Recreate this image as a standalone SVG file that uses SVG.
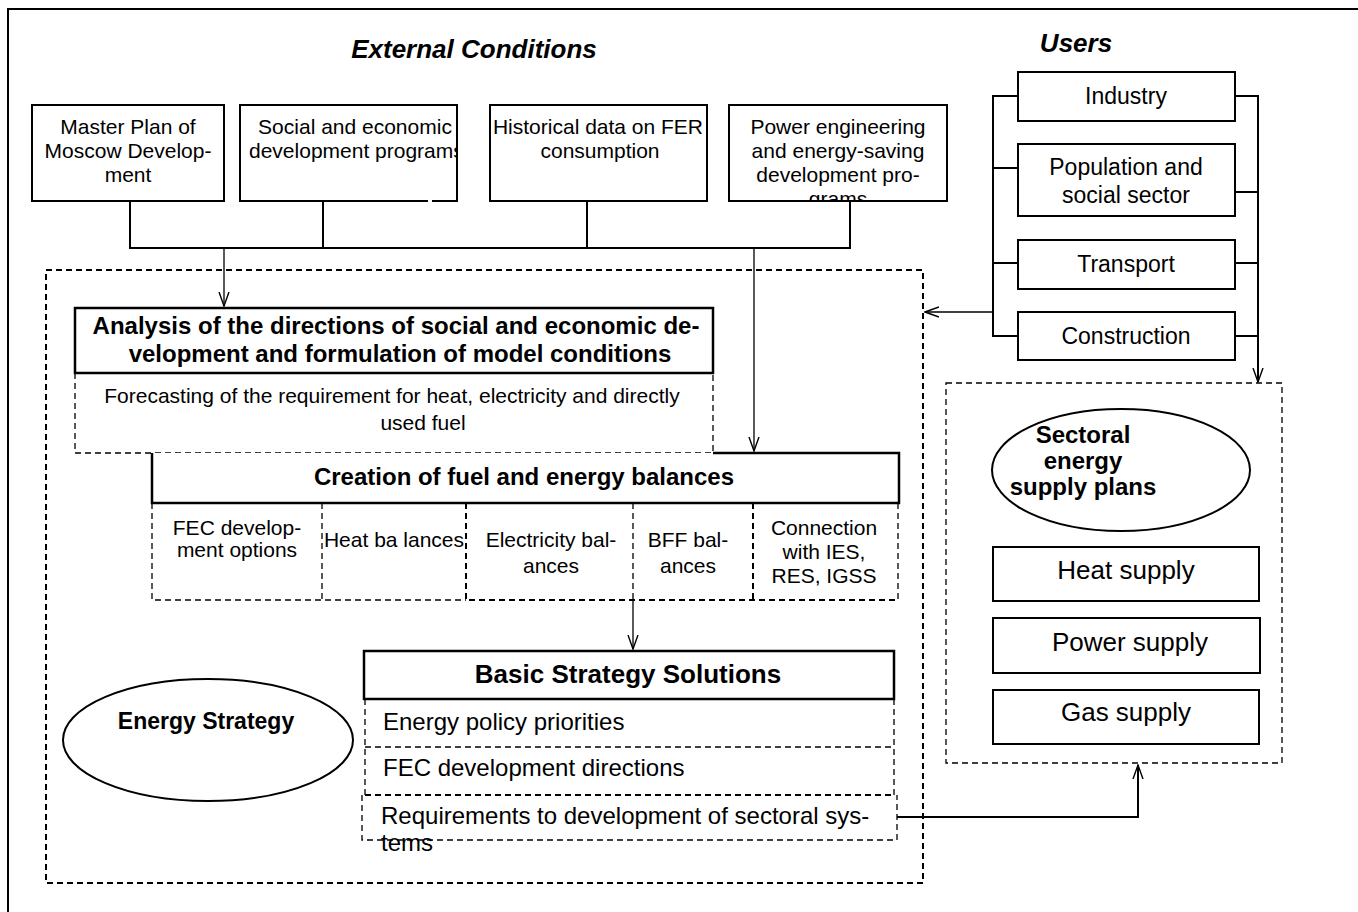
<svg xmlns="http://www.w3.org/2000/svg" width="1358" height="912" viewBox="0 0 1358 912">
<style>
text{font-family:"Liberation Sans",Arial,sans-serif;fill:#000}
.t21{font-size:21px}
.t23{font-size:23px}
.t24{font-size:24px}
.t26{font-size:26px}
.b{font-weight:bold}
.m{text-anchor:middle}
.title{font-size:26px;font-weight:bold;font-style:italic}
.box{fill:#fff;stroke:#000;stroke-width:2}
.hbox{fill:#fff;stroke:#000;stroke-width:2.5}
.dash{fill:none;stroke:#000;stroke-width:1.3;stroke-dasharray:6 4}
.dashb{fill:none;stroke:#000;stroke-width:2;stroke-dasharray:6 4}
.line{fill:none;stroke:#000;stroke-width:2}
.thin{fill:none;stroke:#000;stroke-width:1.3}
.ell{fill:#fff;stroke:#000;stroke-width:2}
</style>
<defs>
<marker id="ah" markerUnits="userSpaceOnUse" markerWidth="15" markerHeight="12" viewBox="0 0 15 12" refX="14" refY="6" orient="auto">
<path d="M0,1 L14,6 L0,11" fill="none" stroke="#000" stroke-width="1.4"/>
</marker>
<clipPath id="c2"><rect x="240" y="105" width="216" height="96"/></clipPath>
<clipPath id="c4"><rect x="729" y="105" width="218" height="95"/></clipPath>
</defs>
<rect x="0" y="0" width="1358" height="912" fill="#fff"/>
<rect x="8" y="9" width="1362" height="912" fill="none" stroke="#000" stroke-width="2"/>

<text class="title m" x="474" y="58">External Conditions</text>
<text class="title m" x="1076" y="52">Users</text>

<g id="containers">
<rect x="46" y="270" width="877" height="613" class="dashb"/>
<rect x="946" y="383" width="336" height="380" class="dash" stroke-width="1.5"/>
</g>

<g id="master-plan">
<rect x="32" y="105" width="192" height="96" class="box"/>
<text class="t21 m" x="128" y="134">Master Plan of</text>
<text class="t21 m" x="128" y="158">Moscow Develop-</text>
<text class="t21 m" x="128" y="182">ment</text>
</g>
<g id="social-programs">
<rect x="240" y="105" width="217" height="96" class="box"/>
<line x1="428" y1="201" x2="432" y2="201" stroke="#fff" stroke-width="3"/>
<g clip-path="url(#c2)">
<text class="t21 m" x="355" y="134">Social and economic</text>
<text class="t21" x="249" y="158">development programs</text>
</g>
</g>
<g id="historical-data">
<rect x="490" y="105" width="217" height="96" class="box"/>
<text class="t21 m" x="598" y="134">Historical data on FER</text>
<text class="t21 m" x="600" y="158">consumption</text>
</g>
<g id="power-programs">
<rect x="729" y="105" width="218" height="96" class="box"/>
<g clip-path="url(#c4)">
<text class="t21 m" x="838" y="134">Power engineering</text>
<text class="t21 m" x="838" y="158">and energy-saving</text>
<text class="t21 m" x="838" y="182">development pro-</text>
<text class="t21 m" x="838" y="206">grams</text>
</g>
</g>

<g id="analysis">
<rect x="75" y="308" width="638" height="65" class="hbox"/>
<text class="t24 b m" x="396" y="334">Analysis of the directions of social and economic de-</text>
<text class="t24 b m" x="400" y="362">velopment and formulation of model conditions</text>
</g>
<g id="forecast">
<path d="M75,373 V453 H713 V373" class="dash"/>
<text class="t21 m" x="392" y="403">Forecasting of the requirement for heat, electricity and directly</text>
<text class="t21 m" x="423" y="430">used fuel</text>
</g>

<g id="creation">
<path d="M713,453 H899 V503 H152 V453" class="hbox" fill="none"/>
<text class="t24 b m" x="524" y="485">Creation of fuel and energy balances</text>
</g>
<g id="balance-cells">
<path d="M152,503 V600 H466 M322,503 V600 M633,503 V600 M898,503 V600" class="dash"/>
<path d="M466,503 V600 H898 M753,503 V600" class="dashb"/>
<text class="t21 m" x="237" y="535">FEC develop-</text>
<text class="t21 m" x="237" y="557">ment options</text>
<text class="t21 m" x="394" y="547">Heat ba lances</text>
<text class="t21 m" x="551" y="547">Electricity bal-</text>
<text class="t21 m" x="551" y="573">ances</text>
<text class="t21 m" x="688" y="547">BFF bal-</text>
<text class="t21 m" x="688" y="573">ances</text>
<text class="t21 m" x="824" y="535">Connection</text>
<text class="t21 m" x="824" y="559">with IES,</text>
<text class="t21 m" x="824" y="583">RES, IGSS</text>
</g>

<g id="basic-strategy">
<rect x="364" y="651" width="530" height="48" class="hbox"/>
<text class="t26 b m" x="628" y="683">Basic Strategy Solutions</text>
</g>
<g id="strategy-rows">
<path d="M365,699 V795 M894,699 V795 M365,747 H894 M362,795 V840 H897 V795" class="dash"/>
<path d="M365,795 H894" class="dashb"/>
<text class="t24" x="383" y="730">Energy policy priorities</text>
<text class="t24" x="383" y="776">FEC development directions</text>
<text class="t24" x="381" y="824">Requirements to development of sectoral sys-</text>
<text class="t24" x="381" y="851">tems</text>
</g>

<g id="energy-strategy">
<ellipse cx="208" cy="740" rx="145" ry="61" class="ell"/>
<text class="t23 b m" x="206" y="729">Energy Strategy</text>
</g>

<g id="industry">
<rect x="1018" y="72" width="217" height="49" class="box"/>
<text class="t23 m" x="1126" y="104">Industry</text>
</g>
<g id="population">
<rect x="1018" y="144" width="217" height="72" class="box"/>
<text class="t23 m" x="1126" y="175">Population and</text>
<text class="t23 m" x="1126" y="203">social sector</text>
</g>
<g id="transport">
<rect x="1018" y="240" width="217" height="49" class="box"/>
<text class="t23 m" x="1126" y="272">Transport</text>
</g>
<g id="construction">
<rect x="1018" y="312" width="217" height="48" class="box"/>
<text class="t23 m" x="1126" y="344">Construction</text>
</g>

<g id="sectoral-plans">
<ellipse cx="1121" cy="470" rx="129" ry="61" class="ell"/>
<text class="t24 b m" x="1083" y="443">Sectoral</text>
<text class="t24 b m" x="1083" y="469">energy</text>
<text class="t24 b m" x="1083" y="495">supply plans</text>
</g>
<g id="heat-supply">
<rect x="993" y="547" width="266" height="54" class="box"/>
<text class="t26 m" x="1126" y="579">Heat supply</text>
</g>
<g id="power-supply">
<rect x="993" y="618" width="267" height="55" class="box"/>
<text class="t26 m" x="1130" y="651">Power supply</text>
</g>
<g id="gas-supply">
<rect x="993" y="690" width="266" height="54" class="box"/>
<text class="t26 m" x="1126" y="721">Gas supply</text>
</g>

<g id="connectors">
<path d="M130,201 V248 M323,201 V248 M587,201 V248 M850,201 V248 M129,248 H851" class="line"/>
<path d="M224,248 V306" class="thin" marker-end="url(#ah)"/>
<path d="M754,248 V451" class="thin" marker-end="url(#ah)"/>
<path d="M633,600 V649" class="thin" marker-end="url(#ah)"/>
<path d="M1018,96 H993 V336 H1018 M993,168 H1018 M993,263 H1018" class="line"/>
<path d="M1235,96 H1258 M1235,192 H1258 M1235,263 H1258 M1235,336 H1258" class="line"/>
<path d="M1258,95 V382" class="line" marker-end="url(#ah)"/>
<path d="M993,312 H925" class="thin" marker-end="url(#ah)"/>
<path d="M897,817 H1138 V765" class="line" marker-end="url(#ah)"/>
</g>
</svg>
